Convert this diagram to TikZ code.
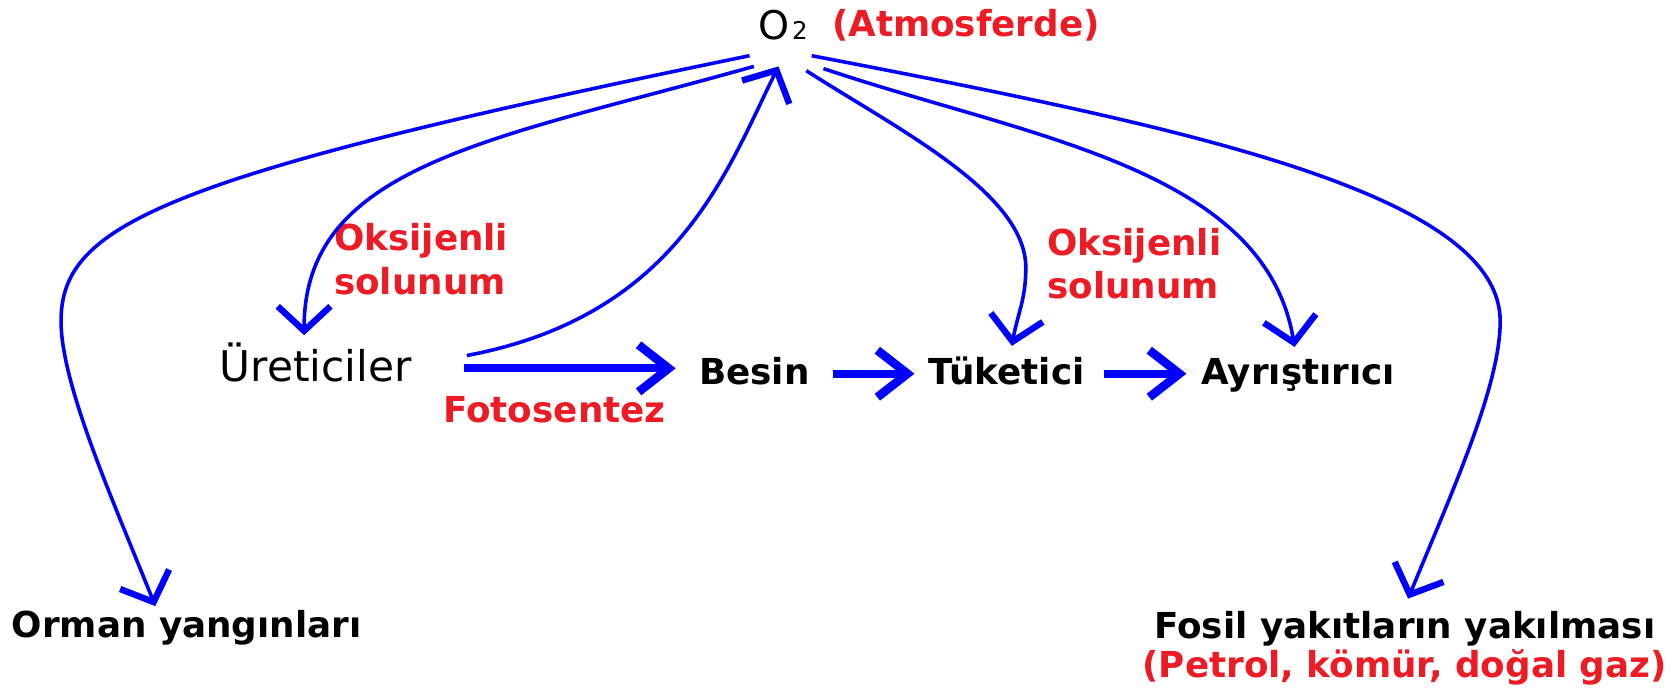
\documentclass[tikz,border=0pt]{standalone}
\usepackage{fontspec}
\setmainfont{DejaVu Sans}
\usetikzlibrary{arrows.meta}
\definecolor{CycBlue}{HTML}{0000FF}
\definecolor{CycRed}{HTML}{ED1C24}

\begin{document}
\begin{tikzpicture}[
    x=0.02cm, y=-0.02cm,
    every node/.style={inner sep=0pt, outer sep=0pt},
    termtext/.style={
      anchor=base west,
      font=\fontsize{19}{23}\selectfont\bfseries
    },
    redtext/.style={
      anchor=base west,
      text=CycRed,
      font=\fontsize{19}{23}\selectfont\bfseries
    },
    redpair/.style={
      anchor=north west,
      align=left,
      text=CycRed,
      font=\fontsize{19}{23}\selectfont\bfseries
    },
    curvearrow/.style={
      -{Straight Barb[length=13pt,width=28pt,line width=3.4pt]},
      line width=1.9pt,
      CycBlue
    },
    flowarrow/.style={
      -{Straight Barb[length=16pt,width=25pt,line width=4.6pt]},
      line width=4.2pt,
      CycBlue
    }
  ]
  \useasboundingbox (0,0) rectangle (1568,643);

  \node[anchor=base west, font=\fontsize{21}{25}\selectfont] (o2) at (708,37) {O\hspace{1.5pt}{\fontsize{13}{15}\selectfont 2}};
  \node[redtext] (atmo) at (777,34) {(Atmosferde)};

  \node[anchor=base west, font=\fontsize{22.5}{26}\selectfont] (uret) at (205,356) {Üreticiler};
  \node[termtext] (besin) at (653,359) {Besin};
  \node[termtext] (tuk) at (867,359) {Tüketici};
  \node[termtext] (ayr) at (1122,359) {Ayrıştırıcı};

  \node[termtext] (orman) at (11,595) {Orman yangınları};
  \node[termtext] (fosil) at (1078,596) {Fosil yakıtların yakılması};
  \node[redtext] (petrol) at (1067,633) {(Petrol, kömür, doğal gaz)};

  \node[redpair] (oks1) at (312,209) {Oksijenli\\solunum};
  \node[redpair] (oks2) at (978,213) {Oksijenli\\solunum};
  \node[redtext] (foto) at (414,395) {Fotosentez};

  \draw[curvearrow] ([shift={(-8,15)}]o2.base west) .. controls (150,165) and (57,210) .. (57,300)
    .. controls (57,360) and (108,473) .. ([shift={(134,-29)}]orman.base west);
  \draw[curvearrow] ([shift={(-4,25)}]o2.base west) .. controls (463,130) and (284,153) .. ([shift={(79,-43)}]uret.base west);
  \draw[curvearrow] ([shift={(231,-24)}]uret.base west) .. controls (632,295) and (678,161) .. ([shift={(19,25)}]o2.base west);
  \draw[curvearrow] ([shift={(45,29)}]o2.base west) .. controls (837,120) and (958,180) .. (958,250)
    .. controls (958,280) and (950,294) .. ([shift={(78,-36)}]tuk.base west);
  \draw[curvearrow] ([shift={(61,27)}]o2.base west) .. controls (958,128) and (1181,156) .. ([shift={(87,-35)}]ayr.base west);
  \draw[curvearrow] ([shift={(50,15)}]o2.base west) .. controls (1102,118) and (1401,180) .. (1401,300)
    .. controls (1401,360) and (1357,457) .. ([shift={(237,-37)}]fosil.base west);

  \draw[flowarrow] ([shift={(228,-12)}]uret.base west) -- ([shift={(-22,-15)}]besin.base west);
  \draw[flowarrow] ([shift={(125,-10)}]besin.base west) -- ([shift={(-13,-10)}]tuk.base west);
  \draw[flowarrow] ([shift={(164,-10)}]tuk.base west) -- ([shift={(-14,-10)}]ayr.base west);
\end{tikzpicture}
\end{document}
